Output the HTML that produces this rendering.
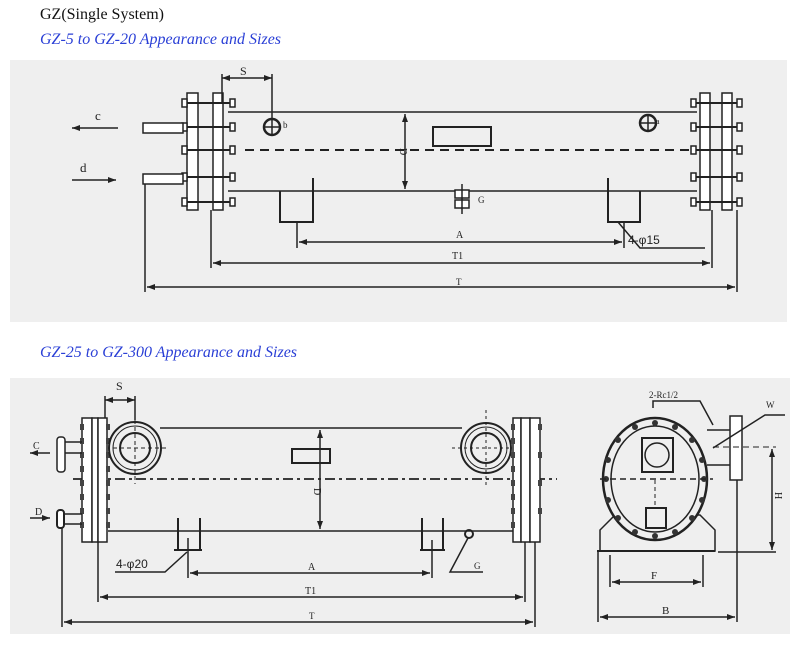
<!DOCTYPE html>
<html><head><meta charset="utf-8"><style>
html,body{margin:0;padding:0;background:#fff;width:800px;height:655px;overflow:hidden}
svg{position:absolute;left:0;top:0}
</style></head><body>
<svg width="800" height="655" viewBox="0 0 800 655" xmlns="http://www.w3.org/2000/svg">
<defs>
<marker id="ar" markerWidth="8" markerHeight="6" refX="8" refY="3" orient="auto" markerUnits="userSpaceOnUse"><path d="M0,0 L8,3 L0,6 Z" fill="#222"/></marker>
<marker id="al" markerWidth="8" markerHeight="6" refX="0" refY="3" orient="auto" markerUnits="userSpaceOnUse"><path d="M8,0 L0,3 L8,6 Z" fill="#222"/></marker>
</defs>
<text x="40" y="19" font-family="Liberation Serif, serif" font-size="16" fill="#111">GZ(Single System)</text>
<text x="40" y="44" font-family="Liberation Serif, serif" font-size="16" font-style="italic" fill="#2a3fd6">GZ-5 to GZ-20 Appearance and Sizes</text>
<text x="40" y="357" font-family="Liberation Serif, serif" font-size="16" font-style="italic" fill="#2a3fd6">GZ-25 to GZ-300 Appearance and Sizes</text>

<rect x="10" y="60" width="777" height="262" fill="#efefef"/>
<rect x="10" y="378" width="780" height="256" fill="#efefef"/>

<g stroke="#222" stroke-width="1.5" fill="none" font-family="Liberation Serif, serif">
<!-- TOP DRAWING -->
<line x1="228" y1="112" x2="697" y2="112"/>
<line x1="228" y1="191" x2="697" y2="191"/>
<line x1="245" y1="150" x2="697" y2="150" stroke-dasharray="9,6" stroke-width="2"/>
<!-- left flange -->
<rect x="187" y="93" width="11" height="117" fill="#fff"/>
<rect x="213" y="93" width="10" height="117" fill="#fff"/>
<g stroke-width="2">
<line x1="183" y1="103" x2="235" y2="103"/><line x1="183" y1="127" x2="235" y2="127"/><line x1="183" y1="150" x2="235" y2="150"/><line x1="183" y1="177" x2="235" y2="177"/><line x1="183" y1="202" x2="235" y2="202"/>
</g>
<g fill="#fff"><rect x="182" y="99" width="5" height="8"/><rect x="230" y="99" width="5" height="8"/><rect x="182" y="123" width="5" height="8"/><rect x="230" y="123" width="5" height="8"/><rect x="182" y="146" width="5" height="8"/><rect x="230" y="146" width="5" height="8"/><rect x="182" y="173" width="5" height="8"/><rect x="230" y="173" width="5" height="8"/><rect x="182" y="198" width="5" height="8"/><rect x="230" y="198" width="5" height="8"/></g>
<rect x="143" y="123" width="40" height="10" fill="#fff"/>
<rect x="143" y="174" width="40" height="10" fill="#fff"/>
<!-- right flange -->
<rect x="700" y="93" width="10" height="117" fill="#fff"/>
<rect x="722" y="93" width="10" height="117" fill="#fff"/>
<g stroke-width="2">
<line x1="692" y1="103" x2="741" y2="103"/><line x1="692" y1="127" x2="741" y2="127"/><line x1="692" y1="150" x2="741" y2="150"/><line x1="692" y1="177" x2="741" y2="177"/><line x1="692" y1="202" x2="741" y2="202"/>
</g>
<g fill="#fff"><rect x="691" y="99" width="5" height="8"/><rect x="737" y="99" width="5" height="8"/><rect x="691" y="123" width="5" height="8"/><rect x="737" y="123" width="5" height="8"/><rect x="691" y="146" width="5" height="8"/><rect x="737" y="146" width="5" height="8"/><rect x="691" y="173" width="5" height="8"/><rect x="737" y="173" width="5" height="8"/><rect x="691" y="198" width="5" height="8"/><rect x="737" y="198" width="5" height="8"/></g>
<!-- c d arrows -->
<line x1="118" y1="128" x2="72" y2="128" marker-end="url(#ar)"/>
<line x1="72" y1="180" x2="116" y2="180" marker-end="url(#ar)"/>
<!-- S -->
<line x1="222" y1="78" x2="272" y2="78" marker-start="url(#al)" marker-end="url(#ar)"/>
<line x1="222" y1="74" x2="222" y2="103"/>
<line x1="272" y1="74" x2="272" y2="120"/>
<circle cx="272" cy="127" r="8" stroke-width="2.5"/><line x1="264" y1="127" x2="280" y2="127"/><line x1="272" y1="119" x2="272" y2="135"/>
<circle cx="648" cy="123" r="8" stroke-width="2.5"/><line x1="640" y1="123" x2="656" y2="123"/><line x1="648" y1="115" x2="648" y2="131"/>
<rect x="433" y="127" width="58" height="19" stroke-width="2"/>
<line x1="405" y1="114" x2="405" y2="189" marker-start="url(#al)" marker-end="url(#ar)"/>
<!-- G valve -->
<rect x="455" y="190" width="14" height="8" fill="#fff"/><rect x="455" y="200" width="14" height="8" fill="#fff"/><line x1="462" y1="184" x2="462" y2="214"/>
<!-- feet -->
<polyline points="280,191 280,222 313,222 313,178" stroke-width="2"/>
<polyline points="608,178 608,222 640,222 640,191" stroke-width="2"/>
<!-- dims -->
<line x1="297" y1="222" x2="297" y2="248"/>
<line x1="624" y1="222" x2="624" y2="248"/>
<line x1="299" y1="242" x2="622" y2="242" marker-start="url(#al)" marker-end="url(#ar)"/>
<line x1="211" y1="210" x2="211" y2="268"/>
<line x1="712" y1="210" x2="712" y2="268"/>
<line x1="213" y1="263" x2="710" y2="263" marker-start="url(#al)" marker-end="url(#ar)"/>
<line x1="145" y1="184" x2="145" y2="292"/>
<line x1="737" y1="210" x2="737" y2="292"/>
<line x1="147" y1="287" x2="735" y2="287" marker-start="url(#al)" marker-end="url(#ar)"/>
<polyline points="618,222 640,248 705,248"/>

<!-- BOTTOM DRAWING -->
<line x1="160" y1="428" x2="462" y2="428"/>
<line x1="108" y1="531" x2="513" y2="531"/>
<line x1="73" y1="479" x2="557" y2="479" stroke-dasharray="10,4,3,4" stroke-width="1.8"/>
<!-- left flange stack -->
<rect x="82" y="418" width="10" height="124" fill="#fff"/>
<rect x="92" y="418" width="6" height="124" fill="#fff"/>
<rect x="98" y="418" width="9" height="124" fill="#fff"/>
<g fill="#444" stroke="none">
<rect x="80" y="424" width="4" height="6"/><rect x="80" y="438" width="4" height="6"/><rect x="80" y="452" width="4" height="6"/><rect x="80" y="466" width="4" height="6"/><rect x="80" y="480" width="4" height="6"/><rect x="80" y="494" width="4" height="6"/><rect x="80" y="508" width="4" height="6"/><rect x="80" y="522" width="4" height="6"/>
<rect x="106" y="424" width="4" height="6"/><rect x="106" y="438" width="4" height="6"/><rect x="106" y="452" width="4" height="6"/><rect x="106" y="466" width="4" height="6"/><rect x="106" y="480" width="4" height="6"/><rect x="106" y="494" width="4" height="6"/><rect x="106" y="508" width="4" height="6"/><rect x="106" y="522" width="4" height="6"/>
</g>
<!-- left circle flange -->
<circle cx="135" cy="448" r="26" fill="#efefef" stroke-width="2"/>
<circle cx="135" cy="448" r="22" stroke-width="1"/>
<circle cx="135" cy="448" r="15" stroke-width="2"/>
<line x1="113" y1="448" x2="166" y2="448" stroke-dasharray="4,3" stroke-width="1"/>
<line x1="135" y1="420" x2="135" y2="484" stroke-dasharray="4,3" stroke-width="1"/>
<!-- right circle flange -->
<circle cx="486" cy="448" r="25" fill="#efefef" stroke-width="2"/>
<circle cx="486" cy="448" r="21" stroke-width="1"/>
<circle cx="486" cy="448" r="15" stroke-width="2"/>
<line x1="452" y1="448" x2="510" y2="448" stroke-dasharray="3,3" stroke-width="1"/>
<line x1="486" y1="410" x2="486" y2="488" stroke-dasharray="3,3" stroke-width="1"/>
<!-- right flange stack -->
<rect x="513" y="418" width="8" height="124" fill="#fff"/>
<rect x="521" y="418" width="9" height="124" fill="#fff"/>
<rect x="530" y="418" width="10" height="124" fill="#fff"/>
<g fill="#444" stroke="none">
<rect x="511" y="424" width="4" height="6"/><rect x="511" y="438" width="4" height="6"/><rect x="511" y="452" width="4" height="6"/><rect x="511" y="466" width="4" height="6"/><rect x="511" y="480" width="4" height="6"/><rect x="511" y="494" width="4" height="6"/><rect x="511" y="508" width="4" height="6"/><rect x="511" y="522" width="4" height="6"/>
<rect x="538" y="424" width="4" height="6"/><rect x="538" y="452" width="4" height="6"/><rect x="538" y="480" width="4" height="6"/><rect x="538" y="508" width="4" height="6"/>
</g>
<!-- nozzles -->
<rect x="57" y="437" width="8" height="35" rx="3" fill="#fff"/>
<line x1="65" y1="442" x2="82" y2="442"/><line x1="65" y1="453" x2="82" y2="453"/>
<rect x="57" y="510" width="7" height="18" rx="3" fill="#fff" stroke-width="2"/>
<line x1="64" y1="514" x2="82" y2="514"/><line x1="64" y1="524" x2="82" y2="524"/>
<line x1="50" y1="453" x2="30" y2="453" marker-end="url(#ar)"/>
<line x1="30" y1="518" x2="50" y2="518" marker-end="url(#ar)"/>
<!-- S -->
<line x1="105" y1="400" x2="135" y2="400" marker-start="url(#al)" marker-end="url(#ar)"/>
<line x1="105" y1="396" x2="105" y2="418"/><line x1="135" y1="396" x2="135" y2="420"/>
<rect x="292" y="449" width="38" height="14" stroke-width="2"/>
<line x1="320" y1="430" x2="320" y2="529" marker-start="url(#al)" marker-end="url(#ar)"/>
<!-- feet -->
<line x1="178" y1="518" x2="178" y2="550" stroke-width="2"/><line x1="200" y1="518" x2="200" y2="550" stroke-width="2"/><line x1="174" y1="550" x2="202" y2="550" stroke-width="2"/>
<line x1="422" y1="518" x2="422" y2="550" stroke-width="2"/><line x1="443" y1="518" x2="443" y2="550" stroke-width="2"/><line x1="420" y1="550" x2="445" y2="550" stroke-width="2"/>
<circle cx="469" cy="534" r="4" stroke-width="2"/>
<polyline points="468,538 450,572 483,572"/>
<polyline points="187,552 165,572 115,572"/>
<!-- dims -->
<line x1="188" y1="538" x2="188" y2="578"/><line x1="432" y1="540" x2="432" y2="578"/>
<line x1="190" y1="573" x2="430" y2="573" marker-start="url(#al)" marker-end="url(#ar)"/>
<line x1="98" y1="542" x2="98" y2="602"/><line x1="525" y1="542" x2="525" y2="602"/>
<line x1="100" y1="597" x2="523" y2="597" marker-start="url(#al)" marker-end="url(#ar)"/>
<line x1="62" y1="528" x2="62" y2="627"/><line x1="535" y1="542" x2="535" y2="627"/>
<line x1="64" y1="622" x2="533" y2="622" marker-start="url(#al)" marker-end="url(#ar)"/>

<!-- SIDE VIEW -->
<polygon points="600,551 600,530 615,515 700,515 715,530 715,551" fill="#efefef"/>
<line x1="597" y1="551" x2="715" y2="551" stroke-width="2"/>
<line x1="707" y1="430" x2="730" y2="430"/><line x1="707" y1="465" x2="730" y2="465"/>
<rect x="730" y="416" width="12" height="64" fill="#fff"/>
<ellipse cx="655" cy="479" rx="52" ry="61" fill="#efefef" stroke-width="2.5"/>
<ellipse cx="655" cy="479" rx="44" ry="53" stroke-width="1.5"/>
<g fill="#333" stroke="none">
<circle cx="655" cy="423" r="3"/><circle cx="635" cy="427" r="3"/><circle cx="675" cy="427" r="3"/><circle cx="618" cy="440" r="3"/><circle cx="692" cy="440" r="3"/><circle cx="608" cy="460" r="3"/><circle cx="702" cy="460" r="3"/><circle cx="606" cy="479" r="3"/><circle cx="704" cy="479" r="3"/><circle cx="608" cy="500" r="3"/><circle cx="702" cy="500" r="3"/><circle cx="618" cy="518" r="3"/><circle cx="692" cy="518" r="3"/><circle cx="635" cy="532" r="3"/><circle cx="675" cy="532" r="3"/><circle cx="655" cy="536" r="3"/>
</g>
<rect x="642" y="438" width="31" height="34" stroke-width="2"/>
<circle cx="657" cy="455" r="12"/>
<rect x="646" y="508" width="20" height="20" stroke-width="2"/>
<line x1="600" y1="479" x2="713" y2="479" stroke-dasharray="6,4" stroke-width="1.5"/>
<line x1="713" y1="447" x2="776" y2="447" stroke-dasharray="6,4" stroke-width="1"/>
<line x1="655" y1="480" x2="655" y2="505" stroke-dasharray="4,3" stroke-width="1"/>
<!-- side dims -->
<line x1="772" y1="449" x2="772" y2="550" marker-start="url(#al)" marker-end="url(#ar)"/>
<line x1="718" y1="552" x2="776" y2="552"/>
<line x1="610" y1="555" x2="610" y2="587"/><line x1="703" y1="555" x2="703" y2="587"/>
<line x1="612" y1="582" x2="701" y2="582" marker-start="url(#al)" marker-end="url(#ar)"/>
<line x1="598" y1="551" x2="598" y2="622"/><line x1="737" y1="480" x2="737" y2="622"/>
<line x1="600" y1="617" x2="735" y2="617" marker-start="url(#al)" marker-end="url(#ar)"/>
<polyline points="653,408 653,401 700,401 713,425"/>
<polyline points="713,448 765,415 785,415"/>
</g>

<g font-family="Liberation Serif, serif" fill="#222">
<text x="95" y="120" font-size="13">c</text>
<text x="80" y="172" font-size="13">d</text>
<text x="240" y="75" font-size="12">S</text>
<text x="283" y="128" font-size="9">b</text>
<text x="656" y="124" font-size="8">a</text>
<text x="400" y="148" font-size="10" transform="rotate(90 400 148)">D</text>
<text x="478" y="203" font-size="9">G</text>
<text x="456" y="238" font-size="10">A</text>
<text x="452" y="259" font-size="10">T1</text>
<text x="456" y="285" font-size="9">T</text>
<text x="628" y="244" font-size="12" font-family="Liberation Sans, sans-serif">4-φ15</text>
<text x="33" y="449" font-size="10">C</text>
<text x="35" y="515" font-size="10">D</text>
<text x="116" y="390" font-size="12">S</text>
<text x="314" y="488" font-size="10" transform="rotate(90 314 488)">D</text>
<text x="308" y="570" font-size="10">A</text>
<text x="305" y="594" font-size="10">T1</text>
<text x="309" y="619" font-size="9">T</text>
<text x="474" y="569" font-size="9">G</text>
<text x="116" y="568" font-size="12" font-family="Liberation Sans, sans-serif">4-φ20</text>
<text x="649" y="398" font-size="9">2-Rc1/2</text>
<text x="766" y="408" font-size="9">W</text>
<text x="775" y="492" font-size="10" transform="rotate(90 775 492)">H</text>
<text x="651" y="579" font-size="11">F</text>
<text x="662" y="614" font-size="11">B</text>
</g>
</svg>
</body></html>
